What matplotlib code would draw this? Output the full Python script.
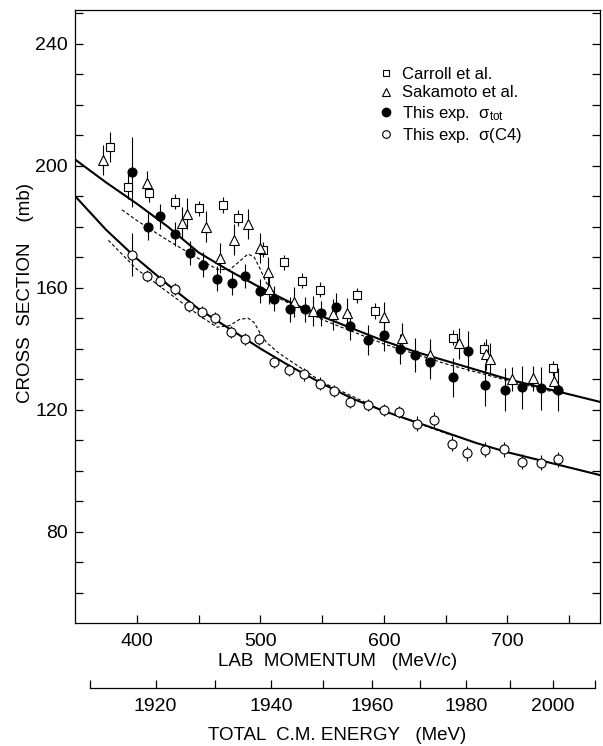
import numpy as np
import matplotlib
matplotlib.use('Agg')
import matplotlib.pyplot as plt
from matplotlib.lines import Line2D

plt.rcParams['font.family'] = ['Liberation Sans', 'DejaVu Sans']
plt.rcParams['mathtext.default'] = 'regular'

# This exp. sigma_tot (filled circles)
p_tot = [396, 409, 419, 431, 443, 454, 465, 477, 488, 500, 511, 524, 536, 549,
         561, 573, 587, 600, 613, 625, 637, 656, 668, 682, 698, 712, 727, 741]
sig_tot = [198.0, 180.0, 183.3, 177.6, 171.3, 167.5, 162.9, 161.5, 163.7, 158.8,
           156.4, 152.8, 152.8, 151.5, 153.7, 147.4, 142.8, 144.3, 139.8, 137.9,
           135.5, 130.5, 139.2, 128.0, 126.5, 127.3, 126.9, 126.5]
err_tot = [11.5, 4.5, 4, 4, 4, 4, 4, 4, 4, 4, 4, 4, 4, 4,
           4.5, 4.5, 5, 5, 5, 5.5, 5.5, 6.5, 6.5, 7, 7, 7, 7, 7]

# This exp. sigma(C4) (open circles)
p_c4 = [396, 408, 419, 431, 442, 453, 463, 476, 488, 499, 511, 523, 535, 548,
        560, 573, 587, 600, 612, 627, 641, 655, 667, 682, 697, 712, 727, 741]
sig_c4 = [170.8, 163.7, 162.1, 159.6, 153.9, 151.9, 150.1, 145.4, 143.2, 143.2,
          135.5, 133.0, 131.5, 128.5, 126.0, 122.4, 121.5, 119.8, 119.3, 115.3,
          116.7, 108.8, 105.6, 106.8, 106.9, 102.9, 102.6, 103.7]
err_c4 = [7, 2, 2, 2, 2, 2, 2, 2, 2, 2, 2, 2, 2, 2,
          2, 2, 2, 2, 2, 2.5, 2.5, 2.5, 2.5, 2.5, 2.5, 2.5, 2.5, 2.5]

# Carroll et al. (open squares)
p_car = [378, 393, 410, 431, 450, 470, 482, 502, 519, 534, 548, 578, 593, 656, 681, 737]
sig_car = [206.0, 193.1, 191.1, 188.2, 186.0, 187.1, 182.8, 172.4, 168.3, 162.3,
           159.3, 157.5, 152.3, 143.6, 139.8, 133.5]
err_car = [5, 4, 3, 2.5, 2.5, 2.5, 2.5, 2.5, 2.5, 2.5, 2.5, 2.5, 2.5, 2.5, 2.5, 2.5]

# Sakamoto et al. (open triangles)
p_sak = [373, 408, 437, 441, 456, 467, 479, 490, 500, 506, 507, 527, 543, 559,
         570, 600, 615, 637, 661, 683, 686, 704, 721, 738]
sig_sak = [201.8, 194.2, 181.3, 184.2, 180.0, 169.7, 175.7, 180.9, 173.0, 165.0,
           159.6, 155.3, 152.3, 151.2, 151.7, 150.3, 143.3, 138.0, 141.7, 138.1,
           136.7, 130.0, 130.2, 129.4]
err_sak = [5, 4, 5, 5, 5, 5, 5, 5, 5, 5, 5, 5, 5, 5,
           5, 5, 5, 5, 5, 5, 5, 4, 4, 4]

# fitted curves (solid)
p_fit = [350, 375, 400, 425, 450, 475, 500, 525, 550, 575, 600, 625, 650, 675, 700, 725, 750, 775]
fit_tot = [202, 194.5, 187.5, 180, 171.5, 165.5, 160, 155, 150.5, 146.5, 142.5, 139,
           136, 133, 130, 127.5, 125, 122.5]
fit_c4 = [190, 179, 169.5, 161, 153, 146.5, 140, 134, 128.5, 123.5, 119.5, 116,
          112.5, 109, 106, 103.5, 101, 98.5]

# dashed curves
p_dash_tot = [388, 400, 425, 450, 465, 475, 483, 490, 495, 500, 505, 515, 550, 600, 650, 700, 740]
dash_tot = [185.5, 182, 175.5, 169.5, 166.0, 165.8, 168.5, 171, 170, 166, 161.5, 156.5,
            149.5, 141.5, 135.0, 129.5, 125.5]
p_dash_c4 = [377, 400, 425, 450, 465, 475, 483, 490, 495, 500, 505, 515, 550, 600, 655]
dash_c4 = [175.5, 166, 158.5, 151, 147.0, 147.5, 149.5, 150, 148.5, 145, 142, 138.5,
           129, 119.5, 111.5]

x_ticks = [400, 450, 500, 550, 600, 650, 700, 750]
x_labels = ['400', '', '500', '', '600', '', '700', '']
y_ticks = list(range(60, 251, 10))
y_labels = [str(v) if v in (80, 120, 160, 200, 240) else '' for v in y_ticks]
w_ticks = list(range(1910, 2011, 10))
w_labels = [str(v) if v in (1920, 1940, 1960, 1980, 2000) else '' for v in w_ticks]

M = 938.3  # proton mass (MeV)


def p_to_w(p):
    p = np.asarray(p, float)
    return np.sqrt(2 * M**2 + 2 * M * np.sqrt(p**2 + M**2))


def w_to_p(w):
    w = np.asarray(w, float)
    e = (w**2 - 2 * M**2) / (2 * M)
    return np.sqrt(np.clip(e**2 - M**2, 0, None))


fig = plt.figure(figsize=(6.03, 7.46), dpi=100)
ax = fig.add_axes([75 / 603, 123 / 746, 525 / 603, 613 / 746])

ax.plot(p_fit, fit_tot, color='k', lw=1.5, zorder=2)
ax.plot(p_fit, fit_c4, color='k', lw=1.5, zorder=2)
ax.plot(p_dash_tot, dash_tot, color='k', lw=0.8, dashes=(3, 2), zorder=2)
ax.plot(p_dash_c4, dash_c4, color='k', lw=0.8, dashes=(3, 2), zorder=2)

eb = dict(ls='none', ecolor='k', elinewidth=0.8, capsize=0, mec='k', mew=0.8, zorder=3)
ax.errorbar(p_car, sig_car, yerr=err_car, marker='s', ms=5.5, mfc='white', **eb)
ax.errorbar(p_sak, sig_sak, yerr=err_sak, marker='^', ms=6.5, mfc='white', **eb)
ax.errorbar(p_tot, sig_tot, yerr=err_tot, marker='o', ms=6.5, mfc='k', **eb)
ax.errorbar(p_c4, sig_c4, yerr=err_c4, marker='o', ms=6.5, mfc='white', **eb)

ax.set_xlim(350, 775)
ax.set_ylim(50, 251)
ax.set_xticks(x_ticks, labels=x_labels)
ax.set_yticks(y_ticks, labels=y_labels)
ax.tick_params(direction='in', length=6, width=0.9, labelsize=14, pad=5,
               right=True, top=False)
ax.tick_params(axis='x', pad=7)
for s in ax.spines.values():
    s.set_linewidth(0.9)

ax.set_xlabel('LAB  MOMENTUM   (MeV/c)', fontsize=13.5, labelpad=2)
ax.set_ylabel('CROSS  SECTION    (mb)', fontsize=13.5)
ax.yaxis.set_label_coords(-0.078, 0.538)

sec = ax.secondary_xaxis(-0.106, functions=(p_to_w, w_to_p))
sec.set_xticks(w_ticks, labels=w_labels)
sec.tick_params(direction='in', length=6, width=0.9, labelsize=14, pad=7)
sec.spines['bottom'].set_linewidth(0.9)
sec.spines['bottom'].set_bounds(1910, 2010)
sec.set_xlabel('TOTAL  C.M. ENERGY   (MeV)', fontsize=13.5, labelpad=9)

handles = [
    Line2D([], [], ls='none', marker='s', ms=5, mfc='white', mec='k', mew=0.8),
    Line2D([], [], ls='none', marker='^', ms=5.5, mfc='white', mec='k', mew=0.8),
    Line2D([], [], ls='none', marker='o', ms=6, mfc='k', mec='k'),
    Line2D([], [], ls='none', marker='o', ms=5.5, mfc='white', mec='k', mew=0.8),
]
labels = ['Carroll et al.', 'Sakamoto et al.', r'This exp.  $\sigma_{tot}$',
          r'This exp.  $\sigma$(C4)']
ax.legend(handles, labels, loc='upper left', bbox_to_anchor=(0.579, 0.907),
          frameon=False, fontsize=12, handlelength=0.8, handletextpad=0.6,
          labelspacing=0.2, borderpad=0, borderaxespad=0)

fig.savefig('out.png', dpi=100)
